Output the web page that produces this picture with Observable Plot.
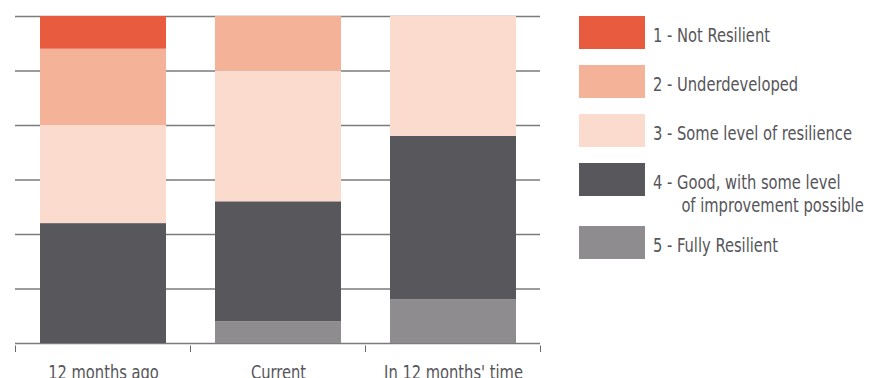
<!DOCTYPE html>
<html>
<head>
<meta charset="utf-8">
<script src="https://cdn.jsdelivr.net/npm/d3@7"></script>
<script src="https://cdn.jsdelivr.net/npm/@observablehq/plot@0.6"></script>
<style>
  html, body { margin: 0; padding: 0; background: #fff; }
  #wrap { position: relative; width: 876px; height: 378px; overflow: hidden; }
  #legend {
    position: absolute; left: 0; top: 0; width: 876px; height: 378px;
    font-family: "DejaVu Sans Condensed", "Liberation Sans Narrow", sans-serif;
    font-size: 19px; line-height: 23px; color: #56555a;
  }
  .sw { position: absolute; left: 579px; width: 66px; height: 33px; }
  .lab { position: absolute; left: 653px; white-space: nowrap;
         transform: scaleX(0.86); transform-origin: 0 0; }
  .lab .indent { padding-left: 33px; }
</style>
</head>
<body>
<div id="wrap"></div>
<script>
// Survey: self-assessed resilience, number of respondents per level
const categories = ["12 months ago", "Current", "In 12 months' time"];
const levels = [
  "1 - Not Resilient",
  "2 - Underdeveloped",
  "3 - Some level of resilience",
  "4 - Good, with some level of improvement possible",
  "5 - Fully Resilient"
];
const legendLines = [
  ["1 - Not Resilient"],
  ["2 - Underdeveloped"],
  ["3 - Some level of resilience"],
  ["4 - Good, with some level", "of improvement possible"],
  ["5 - Fully Resilient"]
];
const colors = ["#e85b3f", "#f4b399", "#fadbcd", "#58575c", "#8e8c8f"];

const notResilient   = [3, 0, 0];
const underdeveloped = [7, 5, 0];
const someLevel      = [9, 12, 11];
const good           = [11, 11, 15];
const fully          = [0, 2, 4];

const gridTicks = [0, 5, 10, 15, 20, 25, 30];

// Stack from level 5 at the bottom up to level 1 at the top
const seriesByLevel = [notResilient, underdeveloped, someLevel, good, fully];
const rows = [];
for (let l = levels.length - 1; l >= 0; --l) {
  categories.forEach((c, i) => rows.push({category: c, level: levels[l], count: seriesByLevel[l][i]}));
}

const PAD_INNER = 0.28;
const TEXT_SQUEEZE = 0.86; // horizontal condensing of label text

// Small tick marks on the baseline at the edges of each category band
function bandEdgeTicks(index, scales, values, dimensions) {
  const x = scales.x;
  const xs = categories.map((c) => x(c));
  const step = xs[1] - xs[0];
  const bw = typeof x.bandwidth === "function" ? x.bandwidth() : step * (1 - PAD_INNER);
  const gap = step - bw;
  const edges = xs.map((v) => v - gap / 2).concat(xs[xs.length - 1] + bw + gap / 2);
  const y0 = dimensions.height - dimensions.marginBottom;
  const g = d3.create("svg:g");
  g.selectAll("line").data(edges).join("line")
    .attr("x1", (d) => d).attr("x2", (d) => d)
    .attr("y1", y0 + 2.5).attr("y2", y0 + 9)
    .attr("stroke", "#6a6a6a").attr("stroke-width", 1);
  return g.node();
}

const chart = Plot.plot({
  width: 876,
  height: 378,
  marginLeft: 15,
  marginRight: 336,
  marginTop: 16,
  marginBottom: 35,
  style: {fontFamily: "'DejaVu Sans Condensed', sans-serif", color: "#56555a", background: "#fff", overflow: "visible"},
  x: {domain: categories, paddingInner: PAD_INNER, paddingOuter: PAD_INNER / 2, label: null},
  y: {domain: [0, 30], axis: null},
  color: {domain: levels, range: colors},
  marks: [
    Plot.ruleY(gridTicks, {stroke: "#7b7b7b", strokeWidth: 1.3}),
    Plot.barY(rows, {x: "category", y: "count", fill: "level", order: levels.slice().reverse()}),
    Plot.axisX({tickSize: 0, tickPadding: 22, fontSize: 19, fill: "#56555a"}),
    bandEdgeTicks
  ]
});

const wrap = document.getElementById("wrap");
wrap.appendChild(chart);

// Condense the category labels horizontally about their own centres
chart.querySelectorAll('g[aria-label="x-axis tick label"] text').forEach((t) => {
  const b = t.getBBox();
  const cx = b.x + b.width / 2;
  const prev = t.getAttribute("transform") || "";
  t.setAttribute("transform", `${prev} translate(${cx},0) scale(${TEXT_SQUEEZE},1) translate(${-cx},0)`);
});

// Legend: swatch rows beside the plot
const legendTops = [16, 65, 114, 163, 226];
const legend = document.createElement("div");
legend.id = "legend";
levels.forEach((lv, i) => {
  const sw = document.createElement("div");
  sw.className = "sw";
  sw.style.top = legendTops[i] + "px";
  sw.style.background = colors[i];
  const lab = document.createElement("div");
  lab.className = "lab";
  lab.style.top = (legendTops[i] + 8) + "px";
  legendLines[i].forEach((t, j) => {
    const line = document.createElement("div");
    if (j > 0) line.className = "indent";
    line.textContent = t;
    lab.appendChild(line);
  });
  legend.appendChild(sw);
  legend.appendChild(lab);
});
wrap.appendChild(legend);
</script>
</body>
</html>
